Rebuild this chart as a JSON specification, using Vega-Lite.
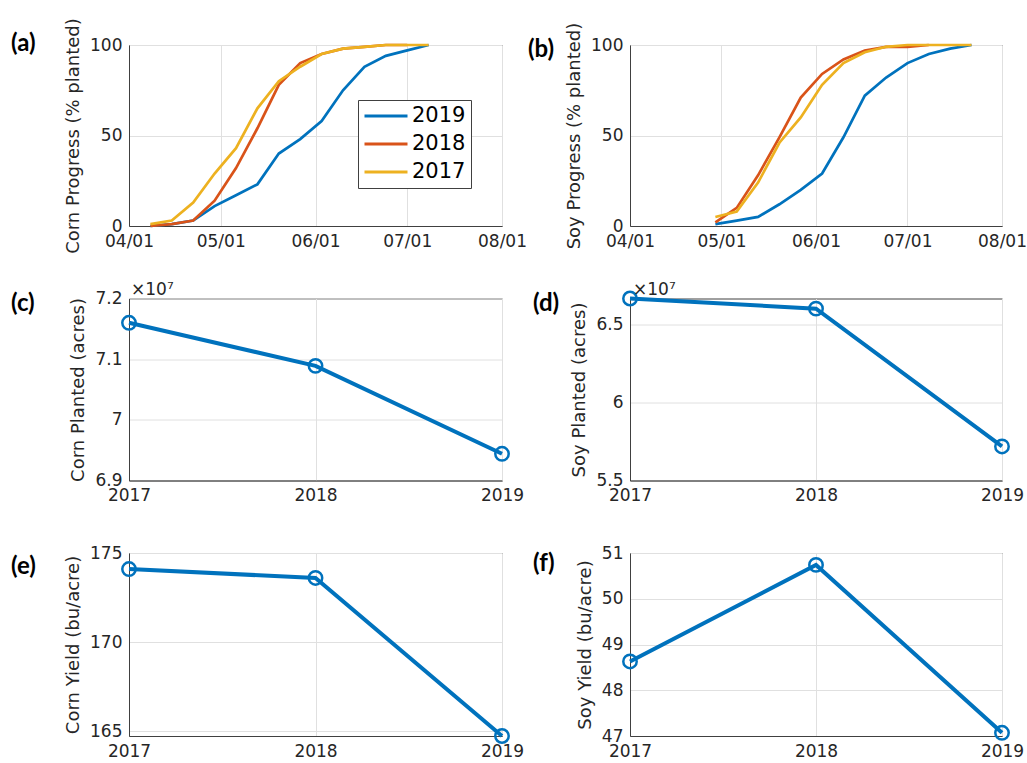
{
  "$schema": "https://vega.github.io/schema/vega-lite/v6.json",
  "background": "white",
  "padding": {"left": 10, "top": 17, "right": 2, "bottom": 2},
  "config": {
    "view": {"stroke": "#404040", "strokeWidth": 1},
    "axis": {
      "domainColor": "#404040", "gridColor": "#e0e0e0", "gridWidth": 1, "grid": true,
      "ticks": false, "labelPadding": 7, "labelFlush": false, "labelOverlap": false,
      "labelFont": "DejaVu Sans", "labelFontSize": 17, "labelColor": "#262626", "labelAngle": 0,
      "titleFont": "DejaVu Sans", "titleFontSize": 18, "titleFontWeight": "normal", "titleColor": "#262626", "titlePadding": 7
    },
    "title": {"font": "Lato", "fontSize": 24, "fontWeight": "bold", "color": "#000000", "anchor": "start", "frame": "group", "offset": 0}
  },
  "datasets": {
    "annual": [
      {"year": 2017, "cornPlanted": 71600000, "soyPlanted": 66650000, "cornYield": 174.1, "soyYield": 48.63},
      {"year": 2018, "cornPlanted": 70890000, "soyPlanted": 66000000, "cornYield": 173.6, "soyYield": 50.74},
      {"year": 2019, "cornPlanted": 69440000, "soyPlanted": 57180000, "cornYield": 164.74, "soyYield": 47.07}
    ]
  },
  "bounds": "flush",
  "columns": 2,
  "spacing": {"row": 72.5, "column": 128},
  "concat": [
    {
      "width": 373, "height": 181,
      "title": {"text": "(a)", "dx": -118, "dy": 42},
      "data": {
        "values": [
          {"md": "04-08", "year": "2019", "pct": 0}, {"md": "04-15", "year": "2019", "pct": 1}, {"md": "04-22", "year": "2019", "pct": 3}, {"md": "04-29", "year": "2019", "pct": 11}, {"md": "05-06", "year": "2019", "pct": 17}, {"md": "05-13", "year": "2019", "pct": 23}, {"md": "05-20", "year": "2019", "pct": 40}, {"md": "05-27", "year": "2019", "pct": 48}, {"md": "06-03", "year": "2019", "pct": 58}, {"md": "06-10", "year": "2019", "pct": 75}, {"md": "06-17", "year": "2019", "pct": 88}, {"md": "06-24", "year": "2019", "pct": 94}, {"md": "07-01", "year": "2019", "pct": 97}, {"md": "07-08", "year": "2019", "pct": 100},
          {"md": "04-08", "year": "2018", "pct": 0}, {"md": "04-15", "year": "2018", "pct": 1}, {"md": "04-22", "year": "2018", "pct": 3}, {"md": "04-29", "year": "2018", "pct": 14}, {"md": "05-06", "year": "2018", "pct": 32}, {"md": "05-13", "year": "2018", "pct": 54}, {"md": "05-20", "year": "2018", "pct": 78}, {"md": "05-27", "year": "2018", "pct": 90}, {"md": "06-03", "year": "2018", "pct": 95}, {"md": "06-10", "year": "2018", "pct": 98}, {"md": "06-17", "year": "2018", "pct": 99}, {"md": "06-24", "year": "2018", "pct": 100}, {"md": "07-01", "year": "2018", "pct": 100},
          {"md": "04-08", "year": "2017", "pct": 1}, {"md": "04-15", "year": "2017", "pct": 3}, {"md": "04-22", "year": "2017", "pct": 13}, {"md": "04-29", "year": "2017", "pct": 29}, {"md": "05-06", "year": "2017", "pct": 43}, {"md": "05-13", "year": "2017", "pct": 65}, {"md": "05-20", "year": "2017", "pct": 80}, {"md": "05-27", "year": "2017", "pct": 88}, {"md": "06-03", "year": "2017", "pct": 95}, {"md": "06-10", "year": "2017", "pct": 98}, {"md": "06-17", "year": "2017", "pct": 99}, {"md": "06-24", "year": "2017", "pct": 100}, {"md": "07-01", "year": "2017", "pct": 100}, {"md": "07-08", "year": "2017", "pct": 100}
        ],
        "format": {"parse": {"md": "date:'%m-%d'"}}
      },
      "mark": {"type": "line", "strokeWidth": 2.7},
      "encoding": {
        "x": {"field": "md", "type": "temporal",
          "scale": {"domain": [{"year": 1900, "month": 4, "date": 1}, {"year": 1900, "month": 8, "date": 1}]},
          "axis": {"values": [{"year": 1900, "month": 4, "date": 1}, {"year": 1900, "month": 5, "date": 1}, {"year": 1900, "month": 6, "date": 1}, {"year": 1900, "month": 7, "date": 1}, {"year": 1900, "month": 8, "date": 1}], "format": "%m/%d", "title": null}},
        "y": {"field": "pct", "type": "quantitative", "scale": {"domain": [0, 100]}, "axis": {"values": [0, 50, 100], "title": "Corn Progress (% planted)"}},
        "color": {"field": "year", "type": "nominal",
          "scale": {"domain": ["2019", "2018", "2017"], "range": ["#0072BD", "#D95319", "#EDB120"]},
          "legend": {"title": null, "orient": "none", "legendX": 229, "legendY": 55, "symbolType": "stroke", "symbolSize": 1849, "symbolStrokeWidth": 3, "clipHeight": 22, "rowPadding": 6, "labelFont": "DejaVu Sans", "labelFontSize": 21, "labelColor": "#000000", "labelOffset": 3, "padding": 5, "strokeColor": "#404040", "fillColor": "#ffffff", "cornerRadius": 0}}
      }
    },
    {
      "width": 372, "height": 181,
      "title": {"text": "(b)", "dx": -102, "dy": 44},
      "data": {
        "values": [
          {"md": "04-29", "year": "2019", "pct": 1}, {"md": "05-06", "year": "2019", "pct": 3}, {"md": "05-13", "year": "2019", "pct": 5}, {"md": "05-20", "year": "2019", "pct": 12}, {"md": "05-27", "year": "2019", "pct": 20}, {"md": "06-03", "year": "2019", "pct": 29}, {"md": "06-10", "year": "2019", "pct": 49}, {"md": "06-17", "year": "2019", "pct": 72}, {"md": "06-24", "year": "2019", "pct": 82}, {"md": "07-01", "year": "2019", "pct": 90}, {"md": "07-08", "year": "2019", "pct": 95}, {"md": "07-15", "year": "2019", "pct": 98}, {"md": "07-22", "year": "2019", "pct": 100},
          {"md": "04-29", "year": "2018", "pct": 2}, {"md": "05-06", "year": "2018", "pct": 10}, {"md": "05-13", "year": "2018", "pct": 28}, {"md": "05-20", "year": "2018", "pct": 49}, {"md": "05-27", "year": "2018", "pct": 71}, {"md": "06-03", "year": "2018", "pct": 84}, {"md": "06-10", "year": "2018", "pct": 92}, {"md": "06-17", "year": "2018", "pct": 97}, {"md": "06-24", "year": "2018", "pct": 99}, {"md": "07-01", "year": "2018", "pct": 99}, {"md": "07-08", "year": "2018", "pct": 100},
          {"md": "04-29", "year": "2017", "pct": 5}, {"md": "05-06", "year": "2017", "pct": 8}, {"md": "05-13", "year": "2017", "pct": 24}, {"md": "05-20", "year": "2017", "pct": 46}, {"md": "05-27", "year": "2017", "pct": 60}, {"md": "06-03", "year": "2017", "pct": 78}, {"md": "06-10", "year": "2017", "pct": 90}, {"md": "06-17", "year": "2017", "pct": 96}, {"md": "06-24", "year": "2017", "pct": 99}, {"md": "07-01", "year": "2017", "pct": 100}, {"md": "07-08", "year": "2017", "pct": 100}, {"md": "07-15", "year": "2017", "pct": 100}, {"md": "07-22", "year": "2017", "pct": 100}
        ],
        "format": {"parse": {"md": "date:'%m-%d'"}}
      },
      "mark": {"type": "line", "strokeWidth": 2.7},
      "encoding": {
        "x": {"field": "md", "type": "temporal",
          "scale": {"domain": [{"year": 1900, "month": 4, "date": 1}, {"year": 1900, "month": 8, "date": 1}]},
          "axis": {"values": [{"year": 1900, "month": 4, "date": 1}, {"year": 1900, "month": 5, "date": 1}, {"year": 1900, "month": 6, "date": 1}, {"year": 1900, "month": 7, "date": 1}, {"year": 1900, "month": 8, "date": 1}], "format": "%m/%d", "title": null}},
        "y": {"field": "pct", "type": "quantitative", "scale": {"domain": [0, 100]}, "axis": {"values": [0, 50, 100], "title": "Soy Progress (% planted)"}},
        "color": {"field": "year", "type": "nominal",
          "scale": {"domain": ["2019", "2018", "2017"], "range": ["#0072BD", "#D95319", "#EDB120"]},
          "legend": null}
      }
    },
    {
      "width": 373, "height": 182,
      "title": {"text": "(c)", "dx": -118, "dy": 39},
      "layer": [
        {
          "data": {"name": "annual"},
          "mark": {"type": "line", "strokeWidth": 4, "color": "#0072BD", "point": {"filled": false, "size": 180, "strokeWidth": 2.5, "color": "#0072BD"}},
          "encoding": {
            "x": {"field": "year", "type": "ordinal", "scale": {"type": "point", "padding": 0}, "axis": {"title": null, "grid": true}},
            "y": {"field": "cornPlanted", "type": "quantitative", "scale": {"domain": [69000000, 72000000], "nice": false, "zero": false}, "axis": {"values": [69000000, 70000000, 71000000, 72000000], "labelExpr": "'' + round(datum.value/1e6)/10", "title": "Corn Planted (acres)"}}
          }
        },
        {
          "data": {"values": [{}]},
          "mark": {"type": "text", "text": "×10⁷", "align": "left", "baseline": "alphabetic", "dx": 2, "dy": -4, "font": "DejaVu Sans", "fontSize": 17, "color": "#262626"},
          "encoding": {"x": {"datum": 2017, "type": "ordinal"}, "y": {"datum": 72000000, "type": "quantitative"}}
        }
      ]
    },
    {
      "width": 372, "height": 182,
      "title": {"text": "(d)", "dx": -97, "dy": 39},
      "layer": [
        {
          "data": {"name": "annual"},
          "mark": {"type": "line", "strokeWidth": 4, "color": "#0072BD", "point": {"filled": false, "size": 180, "strokeWidth": 2.5, "color": "#0072BD"}},
          "encoding": {
            "x": {"field": "year", "type": "ordinal", "scale": {"type": "point", "padding": 0}, "axis": {"title": null, "grid": true}},
            "y": {"field": "soyPlanted", "type": "quantitative", "scale": {"domain": [55000000, 66650000], "nice": false, "zero": false}, "axis": {"values": [55000000, 60000000, 65000000], "labelExpr": "'' + round(datum.value/1e6)/10", "title": "Soy Planted (acres)"}}
          }
        },
        {
          "data": {"values": [{}]},
          "mark": {"type": "text", "text": "×10⁷", "align": "left", "baseline": "alphabetic", "dx": 3, "dy": -4, "font": "DejaVu Sans", "fontSize": 17, "color": "#262626"},
          "encoding": {"x": {"datum": 2017, "type": "ordinal"}, "y": {"datum": 66650000, "type": "quantitative"}}
        }
      ]
    },
    {
      "width": 373, "height": 183,
      "title": {"text": "(e)", "dx": -118, "dy": 39},
      "data": {"name": "annual"},
      "mark": {"type": "line", "strokeWidth": 4, "color": "#0072BD", "point": {"filled": false, "size": 180, "strokeWidth": 2.5, "color": "#0072BD"}},
      "encoding": {
        "x": {"field": "year", "type": "ordinal", "scale": {"type": "point", "padding": 0}, "axis": {"title": null, "grid": true}},
        "y": {"field": "cornYield", "type": "quantitative", "scale": {"domain": [164.74, 175], "nice": false, "zero": false}, "axis": {"values": [165, 170, 175], "title": "Corn Yield (bu/acre)"}}
      }
    },
    {
      "width": 372, "height": 183,
      "title": {"text": "(f)", "dx": -97, "dy": 36},
      "data": {"name": "annual"},
      "mark": {"type": "line", "strokeWidth": 4, "color": "#0072BD", "point": {"filled": false, "size": 180, "strokeWidth": 2.5, "color": "#0072BD"}},
      "encoding": {
        "x": {"field": "year", "type": "ordinal", "scale": {"type": "point", "padding": 0}, "axis": {"title": null, "grid": true}},
        "y": {"field": "soyYield", "type": "quantitative", "scale": {"domain": [47, 51], "nice": false, "zero": false}, "axis": {"values": [47, 48, 49, 50, 51], "title": "Soy Yield (bu/acre)"}}
      }
    }
  ]
}
